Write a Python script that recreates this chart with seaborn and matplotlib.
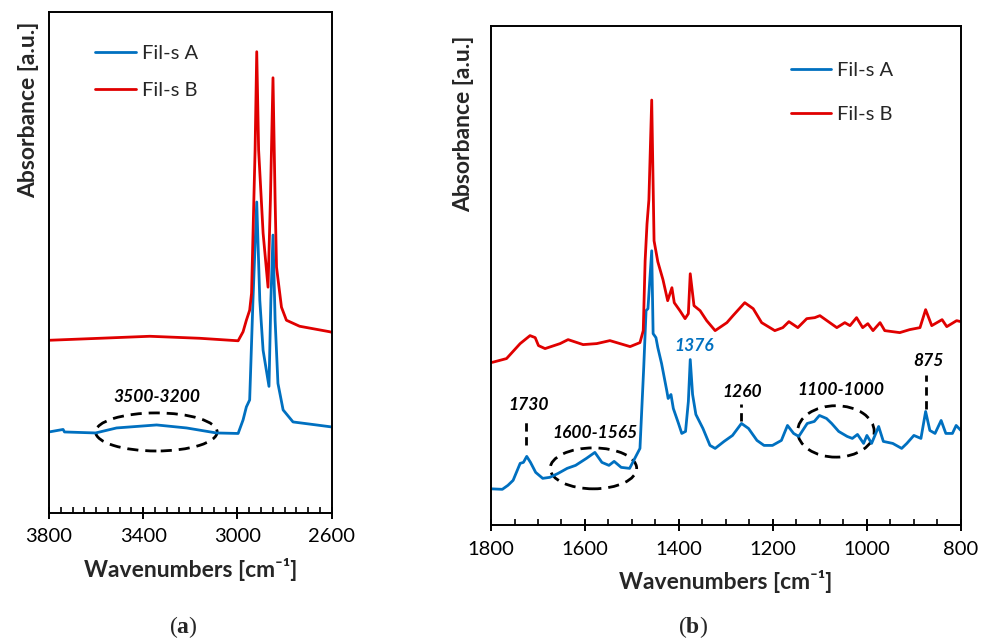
import numpy as np
import pandas as pd
import seaborn as sns
import matplotlib.pyplot as plt
from matplotlib.patches import Ellipse
from matplotlib.ticker import MultipleLocator, FixedLocator

# panel (a): high wavenumber region
wn_a_red = [3800, 3584, 3372, 3160, 2997, 2976, 2962, 2948, 2940, 2925, 2918, 2910,
            2891, 2870, 2860, 2849, 2840, 2834, 2813, 2792, 2736, 2608, 2600]
abs_a_red = [34.5, 34.9, 35.3, 34.9, 34.4, 36.2, 38.5, 40.5, 43.9, 72.5, 92.1, 72.5,
             55.9, 45.1, 62.5, 86.9, 62.5, 49.1, 41.1, 38.5, 37.3, 36.2, 36.1]
wn_a_blue = [3800, 3740, 3734, 3602, 3513, 3343, 3216, 3089, 2997, 2976, 2962, 2948,
             2934, 2918, 2905, 2891, 2866, 2858, 2849, 2840, 2828, 2806, 2764, 2665, 2600]
abs_a_blue = [16.2, 16.7, 16.2, 16.0, 17.0, 17.6, 17.0, 16.0, 15.9, 18.6, 21.2, 22.6,
              42.5, 62.1, 42.5, 32.5, 25.3, 42.5, 55.5, 38.5, 25.9, 20.6, 18.2, 17.6, 17.2]

# panel (b): fingerprint region
wn_b_red = [1800, 1795, 1767, 1738, 1717, 1706, 1699, 1685, 1653, 1636, 1604, 1575, 1547,
            1504, 1483, 1476, 1472, 1468, 1464, 1458, 1453, 1445, 1434, 1424, 1415, 1410,
            1398, 1387, 1380, 1376, 1368, 1355, 1341, 1323, 1298, 1285, 1260, 1242, 1224,
            1196, 1179, 1166, 1147, 1128, 1111, 1100, 1085, 1064, 1047, 1036, 1022, 1009,
            998, 987, 972, 962, 930, 909, 887, 875, 862, 840, 830, 809, 800]
abs_b_red = [32.6, 32.7, 33.4, 36.4, 38.0, 37.6, 36.0, 35.4, 36.4, 37.2, 36.2, 36.4, 37.0,
             35.8, 36.6, 39.0, 53.0, 60.4, 65.2, 85.2, 57.0, 52.8, 49.2, 45.0, 47.6, 44.6,
             43.0, 41.4, 42.4, 50.4, 44.0, 43.0, 41.0, 39.0, 40.6, 42.0, 44.6, 43.4, 40.6,
             39.0, 39.6, 40.8, 39.6, 41.4, 41.6, 42.0, 41.0, 39.6, 40.6, 40.0, 41.6, 39.6,
             40.4, 39.0, 40.6, 39.0, 38.6, 39.2, 39.6, 43.2, 40.0, 41.2, 39.8, 41.0, 40.8]
wn_b_blue = [1800, 1776, 1764, 1753, 1738, 1731, 1724, 1716, 1705, 1690, 1675, 1657, 1638,
             1620, 1597, 1579, 1564, 1549, 1538, 1523, 1505, 1494, 1483, 1475, 1470, 1466,
             1458, 1455, 1449, 1445, 1437, 1426, 1423, 1417, 1412, 1401, 1394, 1386, 1380,
             1376, 1371, 1364, 1349, 1334, 1323, 1304, 1286, 1267, 1252, 1234, 1219, 1201,
             1182, 1169, 1156, 1145, 1127, 1112, 1101, 1086, 1075, 1060, 1042, 1031, 1020,
             1007, 1000, 990, 975, 965, 945, 926, 915, 900, 885, 875, 866, 855, 842, 832,
             818, 810, 800]
abs_b_blue = [7.3, 7.2, 8.0, 9.0, 12.4, 12.6, 13.8, 12.6, 10.6, 9.4, 9.6, 10.4, 11.4,
              12.0, 13.4, 14.6, 12.6, 12.0, 12.8, 11.6, 11.4, 13.4, 15.4, 31.6, 43.0, 43.4,
              55.0, 38.4, 37.6, 35.6, 32.4, 27.0, 25.4, 26.2, 23.4, 20.4, 18.4, 18.8, 24.8,
              33.2, 26.2, 22.2, 19.4, 16.0, 15.4, 16.8, 18.0, 20.4, 19.4, 17.0, 16.0, 16.0,
              17.0, 20.0, 18.4, 17.8, 20.4, 20.8, 22.0, 21.4, 20.4, 18.8, 17.8, 17.4, 18.2,
              16.4, 18.0, 16.4, 19.8, 16.8, 16.4, 15.4, 16.4, 18.0, 17.4, 22.8, 19.0, 18.4,
              21.0, 18.4, 18.4, 20.0, 19.0]

series_names = ["Fil-s A", "Fil-s B"]
colors = {"Fil-s A": "#0070C0", "Fil-s B": "#E00000"}
ticks_a = [3800, 3400, 3000, 2600]
ticks_b = [1800, 1600, 1400, 1200, 1000, 800]

sns.set_theme(style="white")
plt.rcParams['font.family'] = ['Lato', 'DejaVu Sans']
plt.rcParams['mathtext.fontset'] = 'custom'
plt.rcParams['mathtext.rm'] = 'Liberation Serif'
plt.rcParams['mathtext.bf'] = 'Liberation Serif:bold'

df_a = pd.concat([
    pd.DataFrame({"wn": wn_a_blue, "abs": abs_a_blue, "sample": "Fil-s A"}),
    pd.DataFrame({"wn": wn_a_red, "abs": abs_a_red, "sample": "Fil-s B"}),
])
df_b = pd.concat([
    pd.DataFrame({"wn": wn_b_blue, "abs": abs_b_blue, "sample": "Fil-s A"}),
    pd.DataFrame({"wn": wn_b_red, "abs": abs_b_red, "sample": "Fil-s B"}),
])

fig = plt.figure(figsize=(9.85, 6.39), dpi=100)
ax_a = fig.add_axes([0.0497, 0.197, 0.287, 0.784])
ax_b = fig.add_axes([0.4985, 0.178, 0.477, 0.781])


def style_axes(ax, lo, hi, ticks):
    ax.set_xlim(hi, lo)
    ax.set_ylim(0, 100)
    ax.xaxis.set_major_locator(FixedLocator(ticks))
    ax.xaxis.set_minor_locator(MultipleLocator(50))
    ax.set_yticks([])
    for sp in ax.spines.values():
        sp.set_visible(True)
        sp.set_color("black")
        sp.set_linewidth(1.4)
    ax.tick_params(axis="x", which="major", direction="inout", length=8, width=1.4,
                   labelsize=14.5, colors="black", pad=7)
    ax.tick_params(axis="x", which="minor", direction="in", length=4, width=1.2,
                   colors="black")
    ax.tick_params(axis="x", which="both", bottom=True, top=False)
    ax.set_xlabel("Wavenumbers [cm⁻¹]", fontsize=16.5, fontweight="bold", labelpad=9)
    ax.set_ylabel("Absorbance [a.u.]", fontsize=16.5, fontweight="bold")


for ax, df in [(ax_a, df_a), (ax_b, df_b)]:
    sns.lineplot(data=df, x="wn", y="abs", hue="sample", hue_order=series_names,
                 palette=colors, estimator=None, sort=False, linewidth=2.0, ax=ax)

style_axes(ax_a, 2600, 3800, ticks_a)
style_axes(ax_b, 800, 1800, ticks_b)
ax_a.yaxis.set_label_coords(-0.035, 0.805)
ax_b.yaxis.set_label_coords(-0.036, 0.805)

leg_a = ax_a.legend(loc="upper left", bbox_to_anchor=(0.1, 0.971), frameon=False,
                    fontsize=14.5, handlelength=2.0, handletextpad=0.3, labelspacing=1.0)
leg_b = ax_b.legend(loc="upper left", bbox_to_anchor=(0.6, 0.965), frameon=False,
                    fontsize=14.5, handlelength=2.0, handletextpad=0.3, labelspacing=1.35)

ann = dict(fontsize=12.5, fontweight="bold", fontstyle="italic", ha="center", va="center")
dash_ell = dict(fill=False, ls=(0, (4, 2.5)), lw=2, ec="black")

# panel (a) annotation
ax_a.add_patch(Ellipse((3344, 16.2), 516, 7.6, **dash_ell))
ax_a.text(3343, 23.2, "3500-3200", color="black", **ann)

# panel (b) annotations
ax_b.add_patch(Ellipse((1582, 11.4), 184, 8.2, **dash_ell))
ax_b.add_patch(Ellipse((1066, 18.8), 163, 10.3, **dash_ell))
ax_b.text(1720, 24.0, "1730", color="black", **ann)
ax_b.plot([1725, 1725], [16.0, 21.3], color="black", ls=(0, (3, 2)), lw=2)
ax_b.text(1579, 18.4, "1600-1565", color="black", **ann)
ax_b.text(1367, 36.0, "1376", color="#0070C0", **ann)
ax_b.text(1265, 26.8, "1260", color="black", **ann)
ax_b.plot([1267, 1267], [20.9, 24.2], color="black", ls=(0, (3, 2)), lw=2)
ax_b.text(1056, 27.2, "1100-1000", color="black", **ann)
ax_b.text(868, 32.9, "875", color="black", **ann)
ax_b.plot([875, 875], [23.2, 30.2], color="black", ls=(0, (3, 2)), lw=2)

fig.text(0.186, 0.019, r"($\mathbf{a}$)", fontsize=17, family="Liberation Serif",
         ha="center", va="center")
fig.text(0.703, 0.019, r"($\mathbf{b}$)", fontsize=17, family="Liberation Serif",
         ha="center", va="center")

fig.savefig("out.png", dpi=100)
